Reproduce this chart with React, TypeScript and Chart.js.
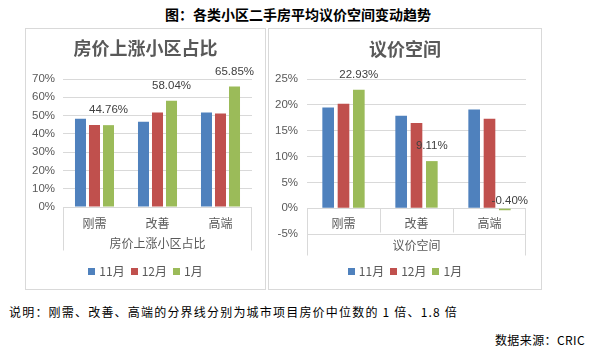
import React, { useEffect, useRef } from "react";
import { Chart, registerables } from "chart.js";
Chart.register(...registerables);

const categories = ["刚需", "改善", "高端"];
const seriesNames = ["11月", "12月", "1月"];
const seriesColors = ["#4F81BD", "#C0504D", "#9BBB59"];

const riseNov = [48.2, 46.6, 51.7];
const riseDec = [44.8, 51.7, 51.2];
const riseJan = [44.76, 58.04, 65.85];

const bargNov = [19.5, 17.9, 19.1];
const bargDec = [20.2, 16.5, 17.3];
const bargJan = [22.93, 9.11, -0.4];

const riseTitle = "房价上涨小区占比";
const bargTitle = "议价空间";
const mainTitle = "图：各类小区二手房平均议价空间变动趋势";
const noteText = "说明：刚需、改善、高端的分界线分别为城市项目房价中位数的 1 倍、1.8 倍";
const sourceText = "数据来源：CRIC";

const CJK = '"Noto Sans CJK SC", "Noto Sans", sans-serif';
const NUM = '"Liberation Sans", Arial, sans-serif';

type Opts = {
  title: string;
  data: number[][];
  min: number;
  max: number;
  step: number;
  yWidth: number;
  tickPad: number;
  padding: { top: number; right: number; bottom: number; left: number };
  innerSeps: boolean;
  outerDepth: number;
  innerDepth: number;
  catOffset: number;
  axisTitleOffset: number;
  cp: number;
  bp: number;
  titleY: number;
  legendY: number;
};

function makeChart(canvas: HTMLCanvasElement, o: Opts) {
  const overlay = {
    id: "overlay",
    afterDraw(chart: any) {
      const ctx = chart.ctx as CanvasRenderingContext2D;
      const ca = chart.chartArea;
      const xs = chart.scales.x;
      const ys = chart.scales.y;
      const zero = Math.round(ys.getPixelForValue(0)) + 0.5;
      const W = chart.width;
      ctx.save();
      // title
      ctx.fillStyle = "#595959";
      ctx.font = `bold 18px ${CJK}`;
      ctx.textAlign = "center";
      ctx.textBaseline = "middle";
      ctx.fillText(o.title, W / 2, o.titleY);
      // separators
      ctx.strokeStyle = "#d9d9d9";
      ctx.lineWidth = 1;
      const l = Math.round(ca.left) + 0.5;
      const r = Math.round(ca.right) - 0.5;
      ctx.beginPath();
      ctx.moveTo(l, zero);
      ctx.lineTo(l, zero + o.outerDepth);
      ctx.moveTo(r, zero);
      ctx.lineTo(r, zero + o.outerDepth);
      if (o.innerSeps) {
        const n = categories.length;
        for (let i = 1; i < n; i++) {
          const x = Math.round(ca.left + ((ca.right - ca.left) * i) / n) + 0.5;
          ctx.moveTo(x, zero);
          ctx.lineTo(x, zero + o.innerDepth);
        }
      }
      ctx.stroke();
      // category labels
      ctx.fillStyle = "#595959";
      ctx.font = `12px ${CJK}`;
      categories.forEach((c, i) => {
        ctx.fillText(c, xs.getPixelForValue(i), zero + o.catOffset);
      });
      ctx.fillText(o.title, (ca.left + ca.right) / 2, zero + o.axisTitleOffset);
      // data labels for last series
      const meta = chart.getDatasetMeta(2);
      ctx.fillStyle = "#404040";
      ctx.font = `11.5px ${NUM}`;
      meta.data.forEach((el: any, i: number) => {
        const v = o.data[2][i];
        const txt = v.toFixed(2) + "%";
        if (v >= 0) ctx.fillText(txt, el.x, el.y - 15);
        else ctx.fillText(txt, el.x + 5, zero - 8);
      });
      // legend
      ctx.font = `12px ${CJK}`;
      const sq = 7;
      const gapIn = 4;
      const gapOut = 6;
      const widths = seriesNames.map((s) => ctx.measureText(s).width);
      let total = 0;
      widths.forEach((w, i) => {
        total += sq + gapIn + w + (i < widths.length - 1 ? gapOut : 0);
      });
      let x = W / 2 - total / 2;
      ctx.textAlign = "left";
      seriesNames.forEach((s, i) => {
        ctx.fillStyle = seriesColors[i];
        ctx.fillRect(Math.round(x), Math.round(o.legendY - sq / 2), sq, sq);
        x += sq + gapIn;
        ctx.fillStyle = "#595959";
        ctx.fillText(s, x, o.legendY);
        x += widths[i] + gapOut;
      });
      ctx.restore();
    },
  };

  return new Chart(canvas, {
    type: "bar",
    data: {
      labels: categories,
      datasets: seriesNames.map((name, i) => ({
        label: name,
        data: o.data[i],
        backgroundColor: seriesColors[i],
        borderWidth: 0,
        categoryPercentage: o.cp,
        barPercentage: o.bp,
      })),
    },
    options: {
      responsive: false,
      animation: false,
      devicePixelRatio: 1,
      layout: { padding: o.padding },
      plugins: {
        legend: { display: false },
        title: { display: false },
        tooltip: { enabled: false },
      },
      scales: {
        x: { display: false },
        y: {
          min: o.min,
          max: o.max,
          afterFit: (scale: any) => {
            scale.width = o.yWidth;
          },
          ticks: {
            stepSize: o.step,
            padding: o.tickPad,
            color: "#595959",
            font: { family: NUM, size: 11.5 },
            callback: (v: any) => v + "%",
          },
          grid: { color: "#d9d9d9", lineWidth: 1, drawTicks: false },
          border: { display: false },
        },
      },
    },
    plugins: [overlay],
  } as any);
}

function Panel(props: { left: number; width: number; opts: Opts }) {
  const ref = useRef<HTMLCanvasElement>(null);
  useEffect(() => {
    if (!ref.current) return;
    const ch = makeChart(ref.current, props.opts);
    return () => ch.destroy();
  }, []);
  const innerW = props.width - 2;
  return (
    <div
      style={{
        position: "absolute",
        left: props.left,
        top: 28,
        width: props.width,
        height: 262,
        border: "1px solid #d9d9d9",
        boxSizing: "border-box",
        background: "#fff",
      }}
    >
      <canvas ref={ref} width={innerW} height={260} style={{ display: "block", width: innerW, height: 260 }} />
    </div>
  );
}

export default function App() {
  const leftOpts: Opts = {
    title: riseTitle,
    data: [riseNov, riseDec, riseJan],
    min: 0,
    max: 70,
    step: 10,
    yWidth: 37,
    tickPad: 8,
    padding: { top: 50, right: 13, bottom: 82, left: 0 },
    innerSeps: false,
    outerDepth: 43,
    innerDepth: 24,
    catOffset: 15.5,
    axisTitleOffset: 36,
    cp: 0.667,
    bp: 0.786,
    titleY: 19,
    legendY: 242,
  };
  const rightOpts: Opts = {
    title: bargTitle,
    data: [bargNov, bargDec, bargJan],
    min: -5,
    max: 25,
    step: 5,
    yWidth: 38,
    tickPad: 9,
    padding: { top: 50, right: 15, bottom: 55, left: 0 },
    innerSeps: true,
    outerDepth: 47,
    innerDepth: 24,
    catOffset: 15,
    axisTitleOffset: 37,
    cp: 0.63,
    bp: 0.76,
    titleY: 20,
    legendY: 242,
  };
  return (
    <div
      style={{
        position: "fixed",
        left: 0,
        top: 0,
        width: 590,
        height: 351,
        background: "#fff",
        overflow: "hidden",
        fontFamily: CJK,
      }}
    >
      <div
        style={{
          position: "absolute",
          left: 0,
          width: 590,
          top: 5,
          textAlign: "center",
          fontWeight: "bold",
          fontSize: 14,
          lineHeight: "18px",
          color: "#000",
          paddingLeft: 6,
          boxSizing: "border-box",
        }}
      >
        {mainTitle}
      </div>
      <Panel left={25} width={241} opts={leftOpts} />
      <Panel left={268} width={274} opts={rightOpts} />
      <div
        style={{
          position: "absolute",
          left: 9,
          top: 303,
          fontSize: 12,
          letterSpacing: "1.2px",
          lineHeight: "18px",
          color: "#000",
          whiteSpace: "nowrap",
        }}
      >
        {noteText}
      </div>
      <div
        style={{
          position: "absolute",
          right: 5,
          top: 331,
          fontSize: 12,
          letterSpacing: "0.4px",
          lineHeight: "18px",
          color: "#000",
          whiteSpace: "nowrap",
        }}
      >
        {sourceText}
      </div>
    </div>
  );
}
